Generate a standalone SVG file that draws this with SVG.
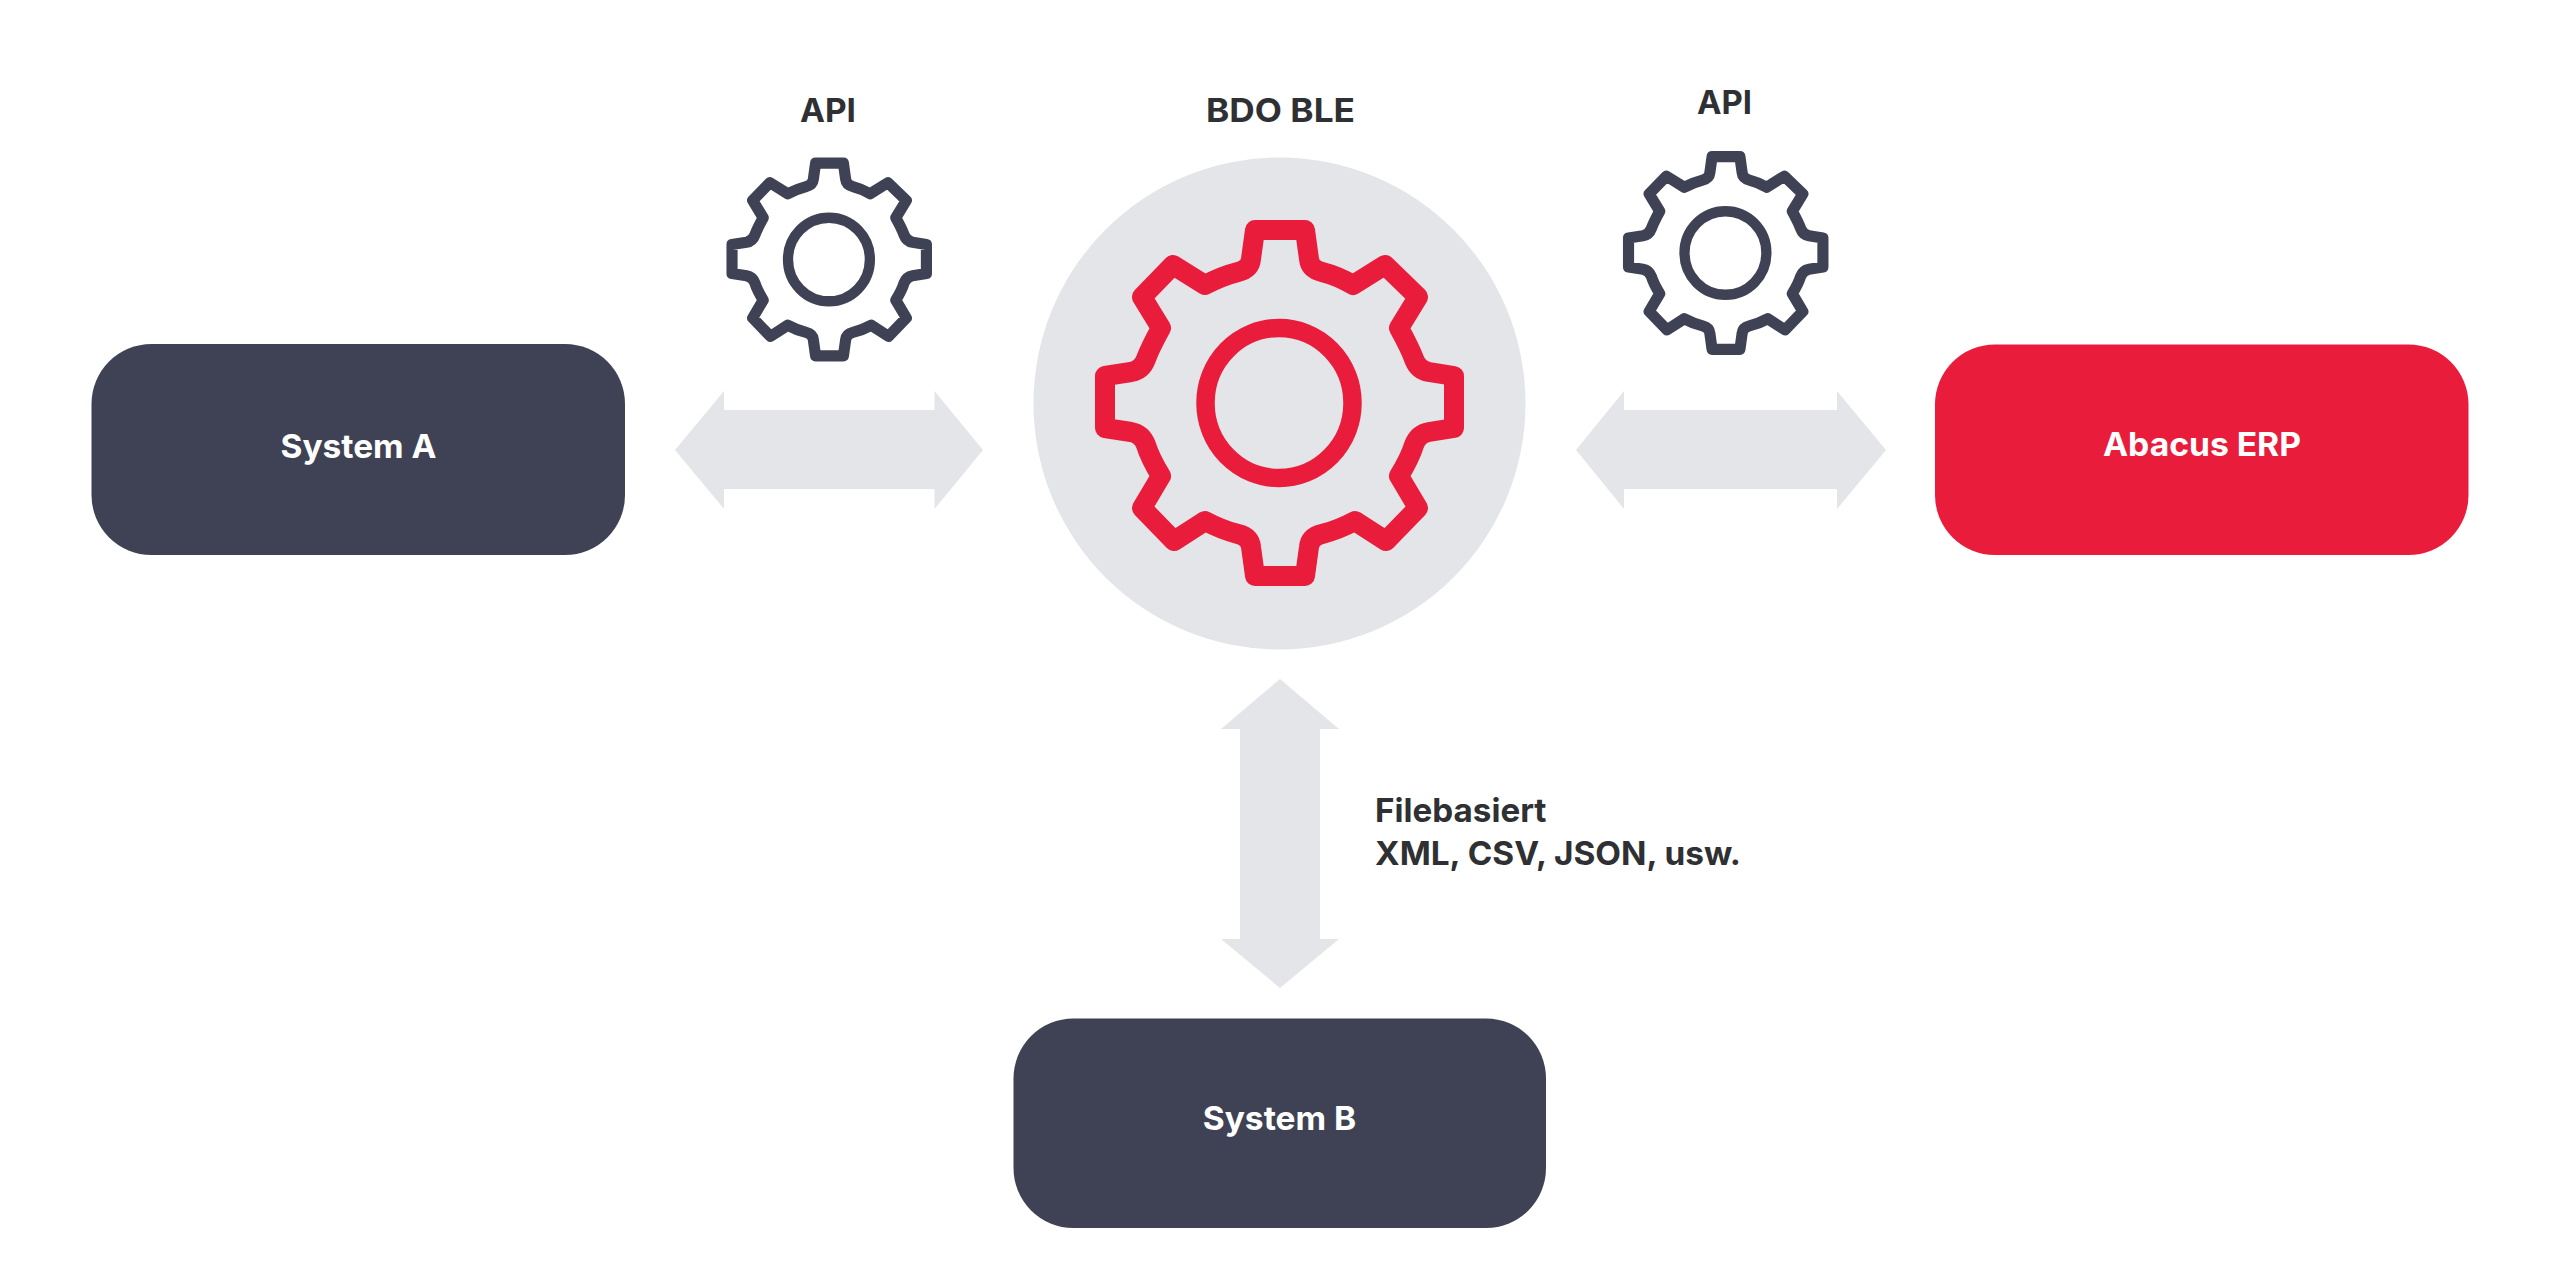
<svg xmlns="http://www.w3.org/2000/svg" width="2560" height="1273" viewBox="0 0 2560 1273">
<style>
text{font-family:"Inter","Liberation Sans",sans-serif;font-weight:700;font-size:33px;fill:#2f3033}
.c{text-anchor:middle}
.w{fill:#fff}
.ar{fill:#e3e5e8}
.dk{fill:#3f4254}
.rd{fill:#e91c3c}
.g{fill:none;stroke-linejoin:round}
</style>
<defs>
<g id="gear">
<path d="M-25 -173L25 -173L29 -144Q30 -134 42 -131Q58 -127 73 -118L105 -138L138 -106L119 -75Q130 -55 134 -44Q138 -33 149 -31L174 -27L174 25L149 29Q138 31 134 42Q130 55 119 73L138 105L106 138L75 118Q58 127 42 131Q30 134 29 144L25 173L-25 173L-29 144Q-30 134 -42 131Q-58 127 -75 118L-106 138L-138 105L-119 73Q-130 55 -134 42Q-138 31 -149 29L-175 25L-175 -27L-149 -31Q-138 -33 -134 -44Q-130 -55 -119 -75L-138 -106L-107 -138L-75 -118Q-58 -127 -42 -131Q-30 -134 -29 -144Z"/>
<ellipse cx="-1" cy="0" rx="73.500" ry="75" stroke-width="18.500"/>
</g>
</defs>
<rect width="2560" height="1273" fill="#fff"/>
<g id="connectors" class="ar">
<path d="M675 450L724 391V410H934.500V391L983 450L934.500 509V489H724V509Z"/>
<path d="M1576 450L1624 391V410H1837V391L1886 450L1837 509V489H1624V509Z"/>
<path d="M1280 679L1339 729H1320V939H1339L1280 988L1221 939H1240V729H1221Z"/>
</g>
<g id="node-system-a"><rect class="dk" x="91.500" y="344" width="533.500" height="211" rx="60"/><text class="c w" x="358.500" y="458" textLength="156" lengthAdjust="spacingAndGlyphs">System A</text></g>
<g id="node-abacus"><rect class="rd" x="1935" y="344.500" width="533.500" height="210.500" rx="60"/><text class="c w" x="2202" y="456" textLength="198" lengthAdjust="spacingAndGlyphs">Abacus ERP</text></g>
<g id="node-system-b"><rect class="dk" x="1013.500" y="1018.500" width="532.500" height="209.500" rx="60"/><text class="c w" x="1279.500" y="1130" textLength="153.500" lengthAdjust="spacingAndGlyphs">System B</text></g>
<g id="node-ble"><circle cx="1279.500" cy="403.500" r="246" fill="#e3e5e8"/>
<use href="#gear" class="g" stroke="#e91c3c" stroke-width="20" transform="translate(1280 403)"/>
<text class="c" x="1280.500" y="122" textLength="149" lengthAdjust="spacingAndGlyphs">BDO BLE</text></g>
<g id="node-api-left"><use href="#gear" class="g" stroke="#3f4254" stroke-width="20" transform="translate(829.500 259.500) scale(.557)"/>
<text class="c" x="828" y="122" textLength="56" lengthAdjust="spacingAndGlyphs">API</text></g>
<g id="node-api-right"><use href="#gear" class="g" stroke="#3f4254" stroke-width="20" transform="translate(1726 253) scale(.557)"/>
<text class="c" x="1724.500" y="114" textLength="55" lengthAdjust="spacingAndGlyphs">API</text></g>
<g id="label-file"><text x="1375" y="822" textLength="171.500" lengthAdjust="spacingAndGlyphs">Filebasiert</text><text x="1375" y="865" textLength="366" lengthAdjust="spacingAndGlyphs">XML, CSV, JSON, usw.</text></g>
</svg>
